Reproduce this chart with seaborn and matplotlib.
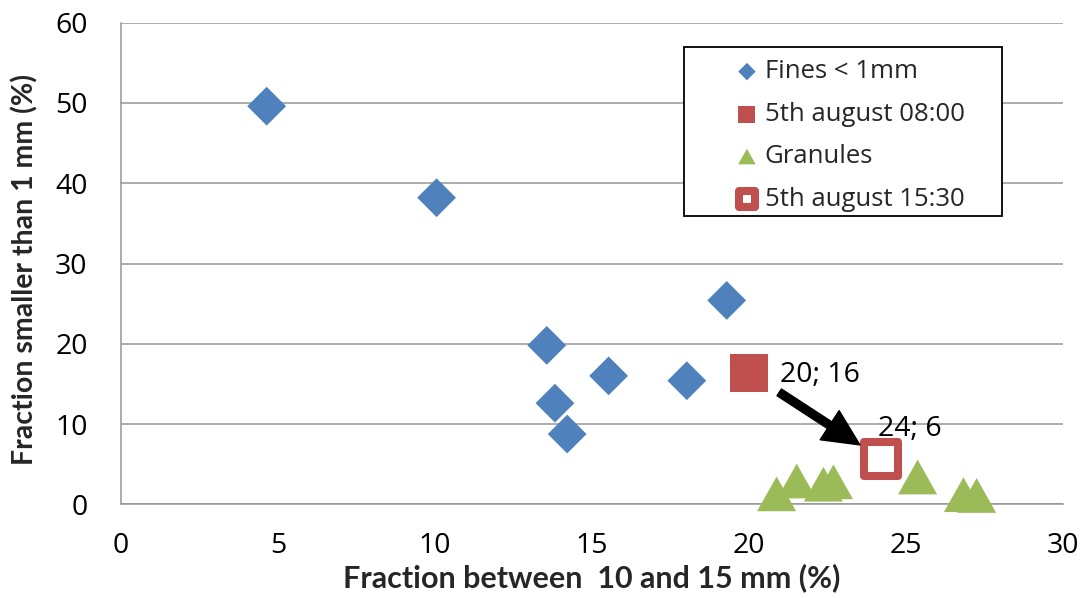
import matplotlib
matplotlib.use("Agg")
import matplotlib.pyplot as plt
import seaborn as sns

# Fines < 1 mm samples
fines_x = [4.64, 10.05, 13.56, 13.82, 14.21, 15.53, 18.02, 19.29]
fines_y = [49.6, 38.2, 19.8, 12.6, 8.75, 16.0, 15.4, 25.4]

# Granule samples
gran_x = [20.88, 21.52, 22.37, 22.69, 25.37, 26.83, 27.25]
gran_y = [1.3, 2.9, 2.5, 2.8, 3.4, 1.2, 1.1]

# The two sampling times on 5th August
morning_x = [20.0]
morning_y = [16.4]
afternoon_x = [24.2]
afternoon_y = [5.7]

series_labels = ["Fines < 1mm", "5th august 08:00", "Granules", "5th august 15:30"]
x_ticks = [0, 5, 10, 15, 20, 25, 30]
y_ticks = [0, 10, 20, 30, 40, 50, 60]

BLUE = "#4F81BD"
RED = "#C0504D"
GREEN = "#9BBB59"
GRID = "#969696"

sns.set_theme(style="white")
plt.rcParams["font.family"] = ["Open Sans", "DejaVu Sans"]

fig = plt.figure(figsize=(10.87, 5.98), dpi=100)
ax = fig.add_axes([0.1113, 0.1567, 0.8666, 0.8053])

sns.scatterplot(x=fines_x, y=fines_y, marker="D", s=390, color=BLUE,
                edgecolor="none", linewidth=0, label=series_labels[0], ax=ax, zorder=3)
sns.scatterplot(x=morning_x, y=morning_y, marker="s", s=740, color=RED,
                edgecolor="none", linewidth=0, label=series_labels[1], ax=ax, zorder=3)
tri = [(0, 0.89), (-1, -0.89), (1, -0.89)]
sns.scatterplot(x=gran_x, y=gran_y, marker=tri, s=790, color=GREEN,
                edgecolor="none", linewidth=0, label=series_labels[2], ax=ax, zorder=3)
sns.scatterplot(x=afternoon_x, y=afternoon_y, marker="s", s=625, facecolor="white",
                edgecolor=RED, linewidth=5.8, label=series_labels[3], ax=ax, zorder=4)
for coll in ax.collections:
    coll.set_joinstyle("round")
    coll.set_clip_on(False)

# value labels and the arrow between the two sampling times
ax.annotate(f"{morning_x[0]:.0f}; {morning_y[0]:.0f}", xy=(morning_x[0], morning_y[0]),
            xytext=(22, -2), textcoords="offset points", ha="left", va="center",
            fontsize=20.5, color="black")
ax.annotate(f"{afternoon_x[0]:.0f}; {afternoon_y[0]:.0f}", xy=(afternoon_x[0], afternoon_y[0]),
            xytext=(-2, 21), textcoords="offset points", ha="left", va="center",
            fontsize=20.5, color="black")
ax.annotate("", xy=(afternoon_x[0], afternoon_y[0]), xytext=(morning_x[0], morning_y[0]),
            arrowprops=dict(arrowstyle="simple,head_length=1.3,head_width=1.25,tail_width=0.29",
                            mutation_scale=20, color="black", shrinkA=26, shrinkB=18),
            zorder=5)

ax.set_xlim(0, 30)
ax.set_ylim(0, 60)
ax.set_xticks(x_ticks)
ax.set_yticks(y_ticks)
ax.tick_params(axis="both", length=0, labelsize=20.5, colors="black")
ax.tick_params(axis="x", pad=20)
ax.tick_params(axis="y", pad=24)
ax.grid(False)
ax.yaxis.grid(True, color=GRID, linewidth=1.1)
ax.set_axisbelow(True)
for side in ["top", "right"]:
    ax.spines[side].set_visible(False)
for side in ["left", "bottom"]:
    ax.spines[side].set_color(GRID)
    ax.spines[side].set_linewidth(1.1)

ax.set_xlabel("Fraction between  10 and 15 mm (%)", fontsize=22, fontweight="bold",
              family=["Lato", "DejaVu Sans"])
ax.set_ylabel("Fraction smaller than 1 mm (%)", fontsize=20.5, fontweight="bold",
              family=["Lato", "DejaVu Sans"])
ax.xaxis.set_label_coords(0.5, -0.122)
ax.yaxis.set_label_coords(-0.088, 0.488)

# legend box with a square black frame
frame = plt.Rectangle((0.598, 0.599), 0.337, 0.3505, transform=ax.transAxes,
                      facecolor="white", edgecolor="black", linewidth=1.3, zorder=6)
ax.add_patch(frame)
leg = ax.legend(loc="upper left", bbox_to_anchor=(0.648, 0.924), borderaxespad=0,
                borderpad=0, frameon=False, fontsize=18.5, markerscale=0.45,
                handlelength=1.21, handletextpad=0.08, labelspacing=0.68)
leg.set_zorder(7)

fig.savefig("out.png", dpi=100)
